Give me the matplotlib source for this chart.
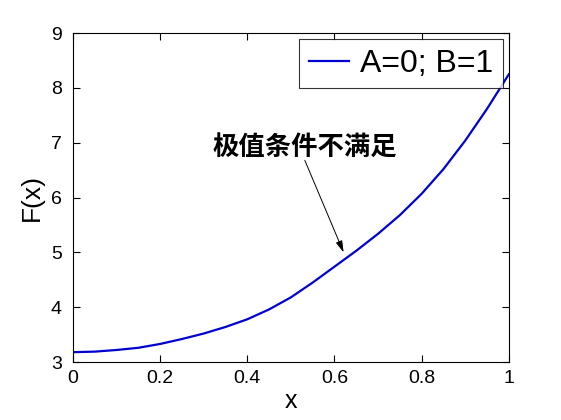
import numpy as np
import matplotlib
matplotlib.use("Agg")
import matplotlib.pyplot as plt

plt.rcParams['font.family'] = ['Liberation Sans', 'DejaVu Sans']

# values
x_vals = [0.0, 0.05, 0.1, 0.15, 0.2, 0.25, 0.3, 0.35, 0.4, 0.45, 0.5,
          0.55, 0.6, 0.65, 0.7, 0.75, 0.8, 0.85, 0.9, 0.95, 1.0]
f_vals = [3.18, 3.19, 3.22, 3.26, 3.33, 3.42, 3.52, 3.64, 3.78, 3.96, 4.18,
          4.45, 4.74, 5.03, 5.34, 5.68, 6.07, 6.52, 7.04, 7.62, 8.25]
legend_label = "A=0; B=1"
note_text = "极值条件不满足"
note_pos = (0.532, 6.92)
arrow_tip = (0.621, 5.0)
arrow_start = (0.532, 6.68)

fig = plt.figure(figsize=(5.61, 4.2), dpi=100)
ax = fig.add_axes([0.130, 0.138, 0.777, 0.783])

ax.plot(x_vals, f_vals, color="#0000d0", linewidth=1.6, label=legend_label,
        solid_joinstyle="round")

ax.set_xlim(0, 1)
ax.set_ylim(3, 9)
ax.set_xticks([0, 0.2, 0.4, 0.6, 0.8, 1])
ax.set_xticklabels(["0", "0.2", "0.4", "0.6", "0.8", "1"])
ax.set_yticks(range(3, 10))
ax.tick_params(direction="in", length=5, width=0.8, top=True, right=True,
               labelsize=14)
ax.tick_params(axis="x", pad=6)
ax.tick_params(axis="y", pad=8)
for s in ax.spines.values():
    s.set_linewidth(0.8)

ax.set_xlabel("x", fontsize=18, labelpad=1)
ax.set_ylabel("F(x)", fontsize=19, labelpad=5)

leg = ax.legend(loc="upper right", fontsize=23, frameon=True, fancybox=False,
                handlelength=1.25, handletextpad=0.35, borderpad=0.3,
                borderaxespad=0.19, edgecolor="black")
leg.get_frame().set_linewidth(0.8)

ax.text(note_pos[0], note_pos[1], note_text, fontsize=19, ha="center", va="center",
        fontweight="bold", family=['Noto Sans CJK SC', 'DejaVu Sans'])
ax.annotate("", xy=arrow_tip, xytext=arrow_start,
            arrowprops=dict(arrowstyle="-|>,head_length=0.7,head_width=0.2",
                            color="black", lw=0.7, shrinkA=0, shrinkB=0))

fig.savefig("out.png", dpi=100)
